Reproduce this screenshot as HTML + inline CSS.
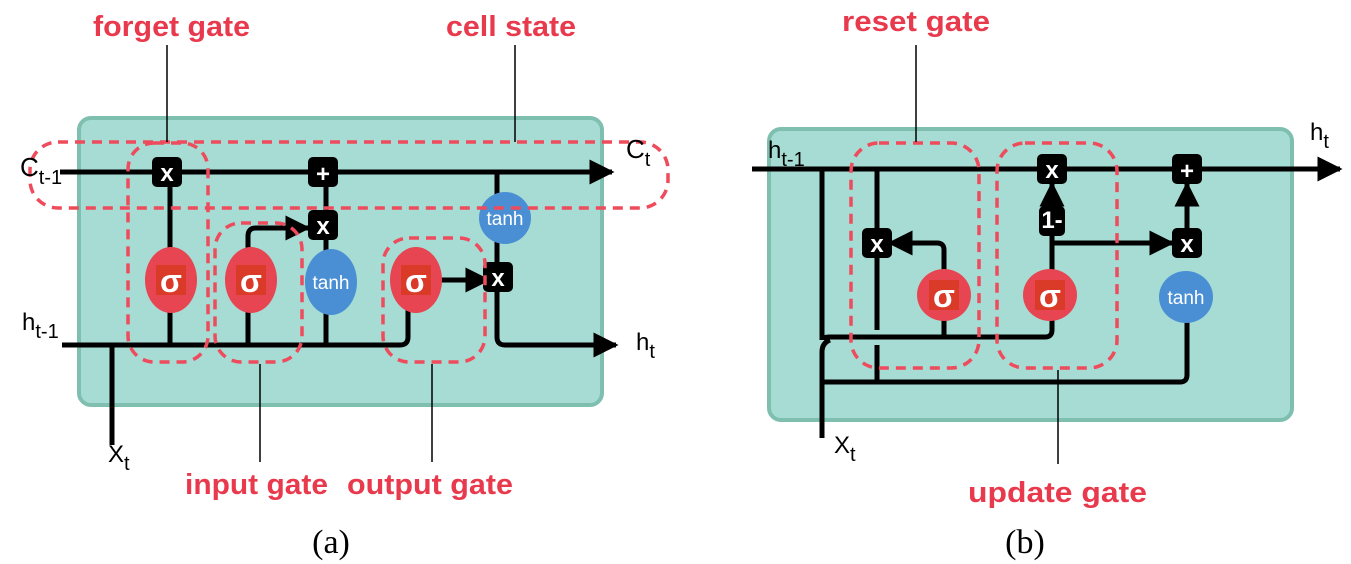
<!DOCTYPE html>
<html><head><meta charset="utf-8"><style>
html,body{margin:0;padding:0;background:#fff;width:1351px;height:564px;overflow:hidden}
svg{display:block}
.lbl{font-family:"Liberation Sans",sans-serif;font-weight:bold;font-size:29px;fill:#e8394d}
.t{font-family:"Liberation Sans",sans-serif;fill:#000}
.ln{stroke:#000;stroke-width:5;fill:none;stroke-linejoin:round}
.dash{stroke:#ee4b5c;stroke-width:3.5;fill:none;stroke-dasharray:10 7}
.thin{stroke:#000;stroke-width:1.5}
.sig{fill:#e64551}
.sq{fill:#da3a28}
.tanh{fill:#4a8fd4}
.op{fill:#000}
.opt{font-family:"Liberation Sans",sans-serif;font-weight:bold;fill:#fff;font-size:24px;text-anchor:middle}
.tt{font-family:"Liberation Sans",sans-serif;fill:#fff;font-size:19px;text-anchor:middle}
.st{font-family:"Liberation Sans",sans-serif;fill:#fff;font-size:32px;text-anchor:middle;font-weight:bold}
.cap{font-family:"Liberation Serif",serif;font-size:34px;fill:#000;text-anchor:middle}
</style></head><body>
<svg width="1351" height="564" viewBox="0 0 1351 564" xmlns="http://www.w3.org/2000/svg">
<defs>
<marker id="ar" viewBox="0 0 10 10" refX="9" refY="5" markerWidth="5" markerHeight="5" orient="auto"><path d="M0,0 L10,5 L0,10 z" fill="#000"/></marker>
</defs>

<!-- ===== Panel A ===== -->
<rect x="79" y="118" width="523" height="287" rx="12" fill="#a6dcd3" stroke="#7fbfb0" stroke-width="4"/>
<path class="ln" d="M60,172 H612" marker-end="url(#ar)"/>
<path class="ln" d="M62,345 H400 Q408,345 408,337 V280"/>
<path class="ln" d="M112,345 V445"/>
<path class="ln" d="M170,172 V345"/>
<path class="ln" d="M248,345 V236 Q248,228 256,228 H308" marker-end="url(#ar)"/>
<path class="ln" d="M326,172 V345"/>
<path class="ln" d="M408,280 H488" marker-end="url(#ar)"/>
<path class="ln" d="M497,172 V337 Q497,345 505,345 H616" marker-end="url(#ar)"/>
<rect class="op" x="152" y="157" width="30" height="30" rx="5"/><text class="opt" x="167" y="181">x</text>
<rect class="op" x="308" y="157" width="30" height="30" rx="5"/><text class="opt" x="323" y="182">+</text>
<rect class="op" x="308" y="210" width="30" height="30" rx="5"/><text class="opt" x="323" y="234">x</text>
<rect class="op" x="483" y="262" width="30" height="30" rx="5"/><text class="opt" x="498" y="286">x</text>
<ellipse class="sig" cx="171" cy="280" rx="26" ry="33"/><rect class="sq" x="156" y="265" width="30" height="30"/><text class="st" x="171" y="292">σ</text>
<ellipse class="sig" cx="251" cy="280" rx="26" ry="33"/><rect class="sq" x="236" y="265" width="30" height="30"/><text class="st" x="251" y="292">σ</text>
<ellipse class="sig" cx="416" cy="280" rx="26" ry="33"/><rect class="sq" x="401" y="265" width="30" height="30"/><text class="st" x="416" y="292">σ</text>
<ellipse class="tanh" cx="331" cy="282" rx="26" ry="33"/><text class="tt" x="331" y="289">tanh</text>
<ellipse class="tanh" cx="505" cy="218" rx="26" ry="26"/><text class="tt" x="505" y="225">tanh</text>
<rect class="dash" x="30" y="142" width="638" height="66" rx="28"/>
<rect class="dash" x="128" y="143" width="80" height="219" rx="26"/>
<rect class="dash" x="215" y="223" width="87" height="139" rx="26"/>
<rect class="dash" x="383" y="238" width="102" height="124" rx="26"/>
<line class="thin" x1="167" y1="45" x2="167" y2="142"/>
<line class="thin" x1="515" y1="45" x2="515" y2="142"/>
<line class="thin" x1="260" y1="364" x2="260" y2="462"/>
<line class="thin" x1="432" y1="364" x2="432" y2="462"/>
<text class="lbl" x="93" y="36" textLength="157" lengthAdjust="spacingAndGlyphs">forget gate</text>
<text class="lbl" x="446" y="36" textLength="130" lengthAdjust="spacingAndGlyphs">cell state</text>
<text class="lbl" x="185" y="494" textLength="143" lengthAdjust="spacingAndGlyphs">input gate</text>
<text class="lbl" x="347" y="494" textLength="166" lengthAdjust="spacingAndGlyphs">output gate</text>
<text class="t" x="20" y="176" font-size="26">C<tspan font-size="20" dy="8">t-1</tspan></text>
<text class="t" x="626" y="158" font-size="26">C<tspan font-size="20" dy="8">t</tspan></text>
<text class="t" x="22" y="330" font-size="24">h<tspan font-size="20" dy="8">t-1</tspan></text>
<text class="t" x="636" y="350" font-size="24">h<tspan font-size="20" dy="8">t</tspan></text>
<text class="t" x="108" y="462" font-size="24">X<tspan font-size="20" dy="8">t</tspan></text>
<text class="cap" x="331" y="553">(a)</text>

<!-- ===== Panel B ===== -->
<rect x="769" y="129" width="523" height="291" rx="12" fill="#a6dcd3" stroke="#7fbfb0" stroke-width="4"/>
<path class="ln" d="M752,169 H1340" marker-end="url(#ar)"/>
<path class="ln" d="M822,169 V340"/>
<path class="ln" d="M822,340 Q822,337 830,337 H1045 Q1052,337 1052,330 V295"/>
<path class="ln" d="M830,340 Q822,343 822,352 V438"/>
<path class="ln" d="M877,169 V330"/>
<path class="ln" d="M877,345 V382"/>
<path class="ln" d="M822,382 H1180 Q1187,382 1187,375 V297"/>
<path class="ln" d="M944,337 V250 Q944,243 937,243 H890" marker-end="url(#ar)"/>
<path class="ln" d="M1052,295 V234"/>
<path class="ln" d="M1052,212 V184" marker-end="url(#ar)"/>
<path class="ln" d="M1052,243 H1172" marker-end="url(#ar)"/>
<path class="ln" d="M1187,230 V184" marker-end="url(#ar)"/>
<rect class="op" x="1037" y="154" width="30" height="30" rx="5"/><text class="opt" x="1052" y="178">x</text>
<rect class="op" x="1172" y="154" width="30" height="30" rx="5"/><text class="opt" x="1187" y="179">+</text>
<rect class="op" x="1039" y="206" width="26" height="30" rx="5"/><text class="opt" x="1052" y="228" font-size="17">1-</text>
<rect class="op" x="862" y="228" width="30" height="30" rx="5"/><text class="opt" x="877" y="252">x</text>
<rect class="op" x="1172" y="228" width="30" height="30" rx="5"/><text class="opt" x="1187" y="252">x</text>
<ellipse class="sig" cx="944" cy="295" rx="27" ry="26"/><rect class="sq" x="929" y="280" width="30" height="30"/><text class="st" x="944" y="307">σ</text>
<ellipse class="sig" cx="1050" cy="295" rx="27" ry="26"/><rect class="sq" x="1035" y="280" width="30" height="30"/><text class="st" x="1050" y="307">σ</text>
<ellipse class="tanh" cx="1186" cy="297" rx="27" ry="26"/><text class="tt" x="1186" y="304">tanh</text>
<rect class="dash" x="851" y="143" width="128" height="225" rx="28"/>
<rect class="dash" x="997" y="143" width="120" height="225" rx="28"/>
<line class="thin" x1="916" y1="45" x2="916" y2="142"/>
<line class="thin" x1="1058" y1="370" x2="1058" y2="464"/>
<text class="lbl" x="842" y="31" textLength="148" lengthAdjust="spacingAndGlyphs">reset gate</text>
<text class="lbl" x="968" y="502" textLength="179" lengthAdjust="spacingAndGlyphs">update gate</text>
<text class="t" x="768" y="158" font-size="24">h<tspan font-size="20" dy="8">t-1</tspan></text>
<text class="t" x="1310" y="140" font-size="24">h<tspan font-size="20" dy="8">t</tspan></text>
<text class="t" x="834" y="453" font-size="24">X<tspan font-size="20" dy="8">t</tspan></text>
<text class="cap" x="1025" y="553">(b)</text>
</svg>
</body></html>
